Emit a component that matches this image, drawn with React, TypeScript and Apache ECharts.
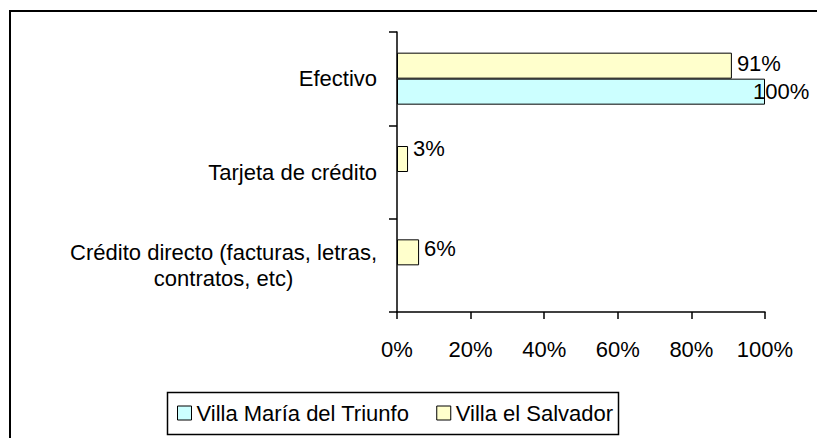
import React, { useEffect, useRef } from "react";
import * as echarts from "echarts";

// Categories listed bottom-to-top (ECharts category y-axis grows upward)
const categories = [
  "Crédito directo (facturas, letras,\ncontratos, etc)",
  "Tarjeta de crédito",
  "Efectivo",
];
const seriesNames = ["Villa María del Triunfo", "Villa el Salvador"];
const villaMariaValues = [0, 0, 100];
const villaSalvadorValues = [6, 3, 91];
const xTicks = { min: 0, max: 100, interval: 20 };

// label placement tweaks (style only), by category index bottom-to-top
const salvadorLabelNudgeY = [-4, -11, -2];

const FONT = "'Liberation Sans', Arial, sans-serif";

export default function App() {
  const ref = useRef<HTMLDivElement>(null);
  useEffect(() => {
    if (!ref.current) return;
    const chart = echarts.init(ref.current, undefined, { renderer: "svg" });
    const labelFmt = (p: any) => (p.value === 0 ? "" : p.value + "%");
    const buildData = (vals: number[], nudge?: number[]) =>
      vals.map((v, i) => {
        const dx = v >= xTicks.max ? -17 : 0;
        const dy = nudge ? nudge[i] : 0;
        const item: any = { value: v };
        if (dx || dy) item.label = { offset: [dx, dy] };
        if (v === 0) item.itemStyle = { borderWidth: 0, opacity: 0 };
        return item;
      });
    const mkSeries = (
      name: string,
      vals: number[],
      color: string,
      nudge?: number[]
    ) => ({
      name,
      type: "bar",
      data: buildData(vals, nudge),
      barWidth: 26,
      barGap: "0%",
      itemStyle: { color, borderColor: "#000", borderWidth: 1 },
      label: {
        show: true,
        position: "right",
        distance: 5,
        formatter: labelFmt,
        color: "#000",
        fontSize: 22,
        fontFamily: FONT,
      },
    });
    chart.setOption({
      animation: false,
      backgroundColor: "#fff",
      textStyle: { fontFamily: FONT },
      graphic: [
        {
          type: "rect",
          shape: { x: 10, y: 11, width: 1000, height: 1000 },
          style: { fill: "none", stroke: "#000", lineWidth: 2 },
          silent: true,
        },
        {
          type: "rect",
          shape: { x: 167.5, y: 392.5, width: 451, height: 42 },
          style: { fill: "none", stroke: "#000", lineWidth: 1.5 },
          silent: true,
        },
      ],
      legend: {
        data: seriesNames,
        left: 177,
        top: 402,
        padding: 0,
        itemWidth: 14,
        itemHeight: 14,
        itemGap: 27,
        icon: "rect",
        itemStyle: { borderColor: "#000", borderWidth: 1, opacity: 1 },
        textStyle: { fontSize: 22, color: "#000", fontFamily: FONT },
      },
      grid: { left: 397, right: 52, top: 32, bottom: 126 },
      xAxis: {
        type: "value",
        min: xTicks.min,
        max: xTicks.max,
        interval: xTicks.interval,
        splitLine: { show: false },
        axisLine: { show: true, lineStyle: { color: "#000", width: 1.5 } },
        axisTick: { show: true, length: 7, lineStyle: { color: "#000", width: 1.5 } },
        axisLabel: {
          formatter: "{value}%",
          fontSize: 22,
          color: "#000",
          margin: 26,
          fontFamily: FONT,
        },
      },
      yAxis: {
        type: "category",
        data: categories,
        axisLine: { show: true, lineStyle: { color: "#000", width: 1.5 } },
        axisTick: { show: true, length: 8, lineStyle: { color: "#000", width: 1.5 } },
        axisLabel: {
          color: "#000",
          fontSize: 22,
          margin: 20,
          fontFamily: FONT,
          formatter: (v: string) =>
            v
              .split("\n")
              .map((s) => `{c|${s}}`)
              .join("\n"),
          rich: {
            c: {
              align: "center",
              fontSize: 22,
              lineHeight: 26,
              color: "#000",
              fontFamily: FONT,
            },
          },
        },
      },
      // first series is drawn on top within each band
      series: [
        mkSeries(seriesNames[1], villaSalvadorValues, "#FFFFCC", salvadorLabelNudgeY),
        mkSeries(seriesNames[0], villaMariaValues, "#CCFFFF"),
      ],
    });
    return () => chart.dispose();
  }, []);
  return (
    <div
      ref={ref}
      style={{ position: "absolute", left: 0, top: 0, width: 817, height: 438 }}
    />
  );
}
